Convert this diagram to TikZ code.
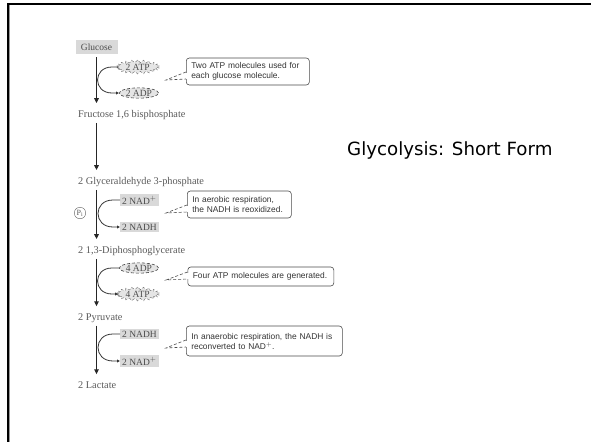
\documentclass[tikz,border=0pt]{standalone}
\usepackage{fontspec}
\setmainfont{Liberation Serif}
\newfontfamily\calloutfont{Liberation Sans}
\newfontfamily\titlefont{DejaVu Sans}
\usetikzlibrary{arrows.meta,shapes.symbols,shapes.geometric,calc}
\tikzset{
  lblfont/.style={font=\fontsize{10.3}{12}\selectfont},
  lbl/.style={anchor=west, inner sep=0pt, text=black!65, lblfont},
  graybox/.style={anchor=west, fill=black!15, inner xsep=2pt, inner ysep=1.5pt, text=black!70, font=\fontsize{9.5}{11}\selectfont},
  starlbl/.style={anchor=west, starburst, starburst points=22, starburst point height=2.6pt, random starburst=0, draw=black!60, densely dashed, fill=black!10, inner xsep=1.5pt, inner ysep=0pt, text=black!70, font=\fontsize{9.5}{11}\selectfont},
  ovallbl/.style={anchor=west, ellipse, draw=black!75, densely dashed, line width=0.6pt, fill=black!10, inner xsep=0.8pt, inner ysep=0.5pt, text=black!70, font=\fontsize{9.5}{11}\selectfont},
  callout/.style={anchor=west, draw=black!70, line width=0.6pt, rounded corners=3pt, fill=white, align=left, text=black!80, font=\calloutfont\fontsize{8.4}{10}\selectfont, inner xsep=5pt, inner ysep=3pt},
  pointer/.style={draw=black!70, densely dashed, line width=0.6pt},
  mainarrow/.style={line width=1.3pt, draw=black!85, -{Triangle[length=5pt,width=4.5pt]}, shorten <=3pt, shorten >=7pt},
  curvearrow/.style={line width=0.8pt, draw=black!80, -{Triangle[length=3pt,width=2.8pt]}},
  frameline/.style={line width=2pt, draw=black},
}
\begin{document}
\begin{tikzpicture}[x=1pt,y=-1pt]
\useasboundingbox (0,0) rectangle (591,442);
% frame
\draw[black!40, line width=1pt] (9.2,5) -- (9.2,442);
\draw[frameline] (7.5,4) -- (591,4);
\draw[frameline] (7.5,3) -- (7.5,442);

% title
\node[font=\titlefont\fontsize{18.2}{21}\selectfont, anchor=west, inner sep=0pt] (title) at (347,150) {Glycolysis: Short Form};

% main compounds
\node[graybox, minimum width=42pt, minimum height=14pt, anchor=center] (glucose) at (96.5,47) {Glucose};
\node[lbl] (fructose) at (78,115) {Fructose 1,6 bisphosphate};
\node[lbl] (glyc) at (78,182) {2 Glyceraldehyde 3-phosphate};
\node[lbl] (diph) at (78,251) {2 1,3-Diphosphoglycerate};
\node[lbl] (pyr) at (78,318) {2 Pyruvate};
\node[lbl] (lact) at (78,385) {2 Lactate};

\draw[mainarrow] (glucose.south) -- (glucose.south |- fructose.north);
\draw[mainarrow] (glucose.south |- fructose.south) -- (glucose.south |- glyc.north);
\draw[mainarrow] (glucose.south |- glyc.south) -- (glucose.south |- diph.north);
\draw[mainarrow] (glucose.south |- diph.south) -- (glucose.south |- pyr.north);
\draw[mainarrow] (glucose.south |- pyr.south) -- (glucose.south |- lact.north);

% side labels
\node[starlbl] (atp2) at (118,67) {2 ATP};
\node[ovallbl] (adp2) at (119,93) {2 ADP};
\node[graybox] (nad1) at (120,200) {2 NAD$^{+}$};
\node[graybox] (nadh1) at (120,227) {2 NADH};
\node[draw=black!60, circle, inner sep=0.8pt, text=black!65, font=\fontsize{8}{9}\selectfont] (pi) at (80,213) {P$_{\mathrm{i}}$};
\node[ovallbl] (adp4) at (119,268) {4 ADP};
\node[starlbl] (atp4) at (118,294) {4 ATP};
\node[graybox] (nadh2) at (120,334) {2 NADH};
\node[graybox] (nad2) at (120,361) {2 NAD$^{+}$};

% curved arrows
\draw[curvearrow] (atp2.west) -- ++(-6,0) to[out=180,in=180,looseness=1.9] ($(adp2.west)+(-7,0)$) -- (adp2.west);
\draw[curvearrow] (nad1.west) -- ++(-7,0) to[out=180,in=180,looseness=1.9] ($(nadh1.west)+(-7,0)$) -- (nadh1.west);
\draw[curvearrow] (adp4.west) -- ++(-7,0) to[out=180,in=180,looseness=1.9] ($(atp4.west)+(-6,0)$) -- (atp4.west);
\draw[curvearrow] (nadh2.west) -- ++(-7,0) to[out=180,in=180,looseness=1.9] ($(nad2.west)+(-7,0)$) -- (nad2.west);

% callouts
\node[callout, text width=113pt, minimum height=27pt] (c1) at (186,71.5) {Two ATP molecules used for\\each glucose molecule.};
\node[callout, text width=94pt, minimum height=27pt] (c2) at (187,204.5) {In aerobic respiration,\\the NADH is reoxidized.};
\node[callout, text width=136pt, minimum height=19pt] (c3) at (187.5,276.5) {Four ATP molecules are generated.};
\node[callout, text width=146pt, minimum height=30pt] (c4) at (186,341) {In anaerobic respiration, the NADH is\\reconverted to NAD$^{+}$.};

\coordinate (t1) at (166,80);
\coordinate (t2) at (166,213);
\coordinate (t3) at (166,280);
\coordinate (t4) at (166,348);
\foreach \c/\t in {c1/t1,c2/t2,c3/t3,c4/t4}{
  \fill[white] ($(\c.west|-\t)+(-1,-7.5)$) rectangle ($(\c.west|-\t)+(1,-1.5)$);
  \draw[pointer] ($(\c.west|-\t)+(0,-8)$) -- (\t) -- ($(\c.west|-\t)+(0,-1)$);
}
\end{tikzpicture}
\end{document}
